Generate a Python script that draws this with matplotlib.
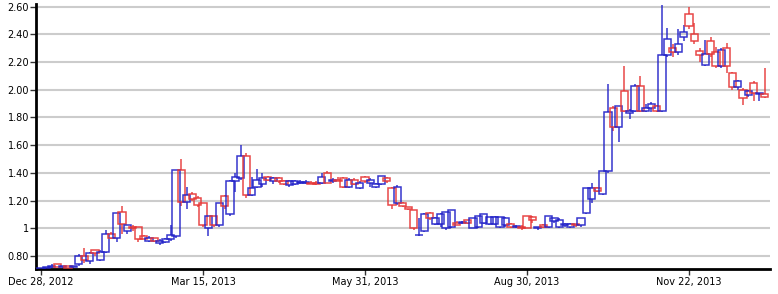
import matplotlib
matplotlib.use("Agg")
import matplotlib.pyplot as plt
import numpy as np

# OHLC readings, one candle per step
opens = [0.70, 0.71, 0.72, 0.74, 0.72, 0.73, 0.72, 0.74, 0.80, 0.76,
         0.84, 0.77, 0.83, 0.96, 0.93, 1.12, 0.98, 1.01, 1.01, 0.94,
         0.91, 0.93, 0.89, 0.90, 0.92, 0.94, 1.42, 1.19, 1.25, 1.22,
         1.18, 1.00, 1.09, 1.02, 1.23, 1.10, 1.34, 1.36, 1.52, 1.24,
         1.30, 1.32, 1.37, 1.34, 1.36, 1.34, 1.31, 1.32, 1.33, 1.33,
         1.33, 1.33, 1.33, 1.40, 1.34, 1.35, 1.36, 1.30, 1.35, 1.29,
         1.37, 1.33, 1.30, 1.32, 1.36, 1.29, 1.18, 1.18, 1.15, 1.13,
         0.95, 0.98, 1.11, 1.03, 1.03, 1.00, 1.01, 1.04, 1.04, 1.06,
         1.00, 1.01, 1.04, 1.03, 1.03, 1.01, 1.02, 1.03, 1.01, 1.01,
         1.09, 1.08, 1.00, 1.02, 1.01, 1.05, 1.01, 1.02, 1.01, 1.03,
         1.02, 1.11, 1.21, 1.29, 1.25, 1.41, 1.87, 1.73, 1.99, 1.83,
         1.85, 2.03, 1.85, 1.87, 1.88, 1.85, 2.25, 2.30, 2.27, 2.38,
         2.55, 2.40, 2.28, 2.18, 2.35, 2.27, 2.17, 2.30, 2.12, 2.02,
         2.00, 1.96, 2.05, 1.97, 1.97]
highs = [0.71, 0.72, 0.74, 0.74, 0.73, 0.73, 0.73, 0.81, 0.86, 0.83,
         0.84, 0.84, 0.99, 0.97, 1.11, 1.16, 1.02, 1.02, 1.01, 0.95,
         0.94, 0.93, 0.92, 0.93, 1.02, 1.42, 1.50, 1.30, 1.26, 1.23,
         1.18, 1.09, 1.09, 1.18, 1.24, 1.35, 1.40, 1.60, 1.54, 1.37,
         1.43, 1.40, 1.38, 1.37, 1.37, 1.35, 1.35, 1.35, 1.35, 1.35,
         1.34, 1.34, 1.40, 1.41, 1.36, 1.37, 1.37, 1.36, 1.36, 1.34,
         1.38, 1.36, 1.33, 1.38, 1.37, 1.30, 1.31, 1.19, 1.15, 1.13,
         1.07, 1.11, 1.12, 1.08, 1.11, 1.12, 1.13, 1.05, 1.05, 1.06,
         1.07, 1.09, 1.10, 1.08, 1.09, 1.08, 1.08, 1.04, 1.02, 1.02,
         1.09, 1.09, 1.01, 1.03, 1.09, 1.07, 1.07, 1.04, 1.04, 1.03,
         1.07, 1.29, 1.33, 1.30, 1.41, 2.04, 1.88, 1.88, 2.17, 1.86,
         2.04, 2.10, 1.90, 1.91, 1.89, 2.61, 2.45, 2.33, 2.44, 2.47,
         2.60, 2.48, 2.30, 2.36, 2.38, 2.31, 2.30, 2.34, 2.13, 2.07,
         2.01, 2.00, 2.06, 1.98, 2.16]
lows = [0.70, 0.70, 0.71, 0.72, 0.71, 0.71, 0.71, 0.73, 0.75, 0.74,
        0.80, 0.76, 0.82, 0.92, 0.90, 0.96, 0.96, 0.98, 0.90, 0.92,
        0.90, 0.90, 0.88, 0.89, 0.91, 0.93, 1.16, 1.14, 1.20, 1.15,
        1.01, 0.94, 1.01, 1.01, 1.14, 1.09, 1.26, 1.35, 1.22, 1.23,
        1.29, 1.30, 1.34, 1.32, 1.33, 1.31, 1.30, 1.31, 1.32, 1.32,
        1.32, 1.31, 1.32, 1.33, 1.33, 1.34, 1.29, 1.29, 1.31, 1.28,
        1.33, 1.30, 1.29, 1.31, 1.33, 1.14, 1.17, 1.15, 1.13, 0.99,
        0.94, 0.97, 1.06, 1.02, 1.01, 0.99, 1.00, 1.02, 1.03, 1.03,
        1.00, 1.00, 1.03, 1.02, 1.02, 1.00, 1.01, 1.00, 1.00, 0.99,
        1.00, 1.04, 0.99, 1.00, 1.00, 1.04, 1.00, 1.01, 1.00, 1.01,
        1.01, 1.10, 1.18, 1.26, 1.24, 1.40, 1.70, 1.62, 1.84, 1.79,
        1.84, 1.84, 1.84, 1.84, 1.84, 1.84, 2.24, 2.24, 2.25, 2.35,
        2.44, 2.33, 2.20, 2.17, 2.24, 2.16, 2.16, 2.12, 2.00, 2.00,
        1.89, 1.95, 1.92, 1.92, 1.94]
closes = [0.71, 0.72, 0.73, 0.72, 0.73, 0.71, 0.73, 0.80, 0.77, 0.82,
          0.82, 0.83, 0.96, 0.93, 1.11, 1.03, 1.02, 1.00, 0.92, 0.92,
          0.93, 0.91, 0.91, 0.92, 0.95, 1.42, 1.19, 1.24, 1.21, 1.17,
          1.02, 1.09, 1.02, 1.18, 1.16, 1.34, 1.37, 1.52, 1.24, 1.29,
          1.35, 1.36, 1.35, 1.36, 1.34, 1.32, 1.34, 1.34, 1.33, 1.33,
          1.32, 1.32, 1.37, 1.33, 1.35, 1.34, 1.30, 1.35, 1.32, 1.33,
          1.34, 1.35, 1.32, 1.38, 1.34, 1.17, 1.30, 1.16, 1.14, 1.00,
          0.95, 1.10, 1.07, 1.07, 1.10, 1.12, 1.13, 1.02, 1.04, 1.04,
          1.07, 1.09, 1.10, 1.08, 1.08, 1.08, 1.07, 1.01, 1.01, 1.00,
          1.00, 1.06, 1.01, 1.01, 1.09, 1.07, 1.06, 1.03, 1.03, 1.02,
          1.07, 1.29, 1.29, 1.27, 1.41, 1.84, 1.73, 1.88, 1.85, 1.85,
          2.03, 1.85, 1.87, 1.90, 1.85, 2.25, 2.37, 2.27, 2.33, 2.42,
          2.46, 2.35, 2.25, 2.26, 2.26, 2.17, 2.29, 2.17, 2.02, 2.06,
          1.94, 1.99, 1.98, 1.97, 1.95]

date_labels = ["Dec 28, 2012", "Mar 15, 2013", "May 31, 2013", "Aug 30, 2013", "Nov 22, 2013"]
label_every = 30

y_ticks = [0.80, 1.0, 1.20, 1.40, 1.60, 1.80, 2.00, 2.20, 2.40, 2.60]
y_labels = ["0.80", "1", "1.20", "1.40", "1.60", "1.80", "2.00", "2.20", "2.40", "2.60"]

UP = "#2020c8"
DOWN = "#e63434"

o = np.array(opens)
h = np.array(highs)
l = np.array(lows)
c = np.array(closes)
x = np.arange(len(o))
colors = [UP if cc >= oo else DOWN for oo, cc in zip(o, c)]

fig = plt.figure(figsize=(7.78, 2.94), dpi=100)
ax = fig.add_axes([36 / 778, 25 / 294, 734 / 778, 265 / 294])

for yt in y_ticks:
    ax.axhline(yt, color="#cccccc", linewidth=1.5, zorder=0)

top = np.maximum(o, c)
bot = np.minimum(o, c)
ax.vlines(x, top, h, colors=colors, linewidth=1.1, alpha=0.9, zorder=2)
ax.vlines(x, l, bot, colors=colors, linewidth=1.1, alpha=0.9, zorder=2)
ax.bar(x, np.maximum(top - bot, 0.004), bottom=bot, width=1.35, fill=False,
       edgecolor=colors, linewidth=1.1, alpha=0.9, zorder=3)

ax.set_xlim(-0.93, len(o))
ax.set_ylim(0.705, 2.62)

ax.set_yticks(y_ticks)
ax.set_yticklabels(y_labels)
ax.set_xticks(np.arange(len(date_labels)) * label_every)
ax.set_xticklabels(date_labels)

for side in ["top", "right"]:
    ax.spines[side].set_visible(False)
for side in ["left", "bottom"]:
    ax.spines[side].set_linewidth(2)
    ax.spines[side].set_color("black")

ax.tick_params(axis="both", labelsize=7, colors="#333333", length=4, width=1, pad=2)
ax.tick_params(axis="y", pad=1)
for t in ax.get_xticklabels() + ax.get_yticklabels():
    t.set_color("black")

fig.savefig("out.png", dpi=100)
